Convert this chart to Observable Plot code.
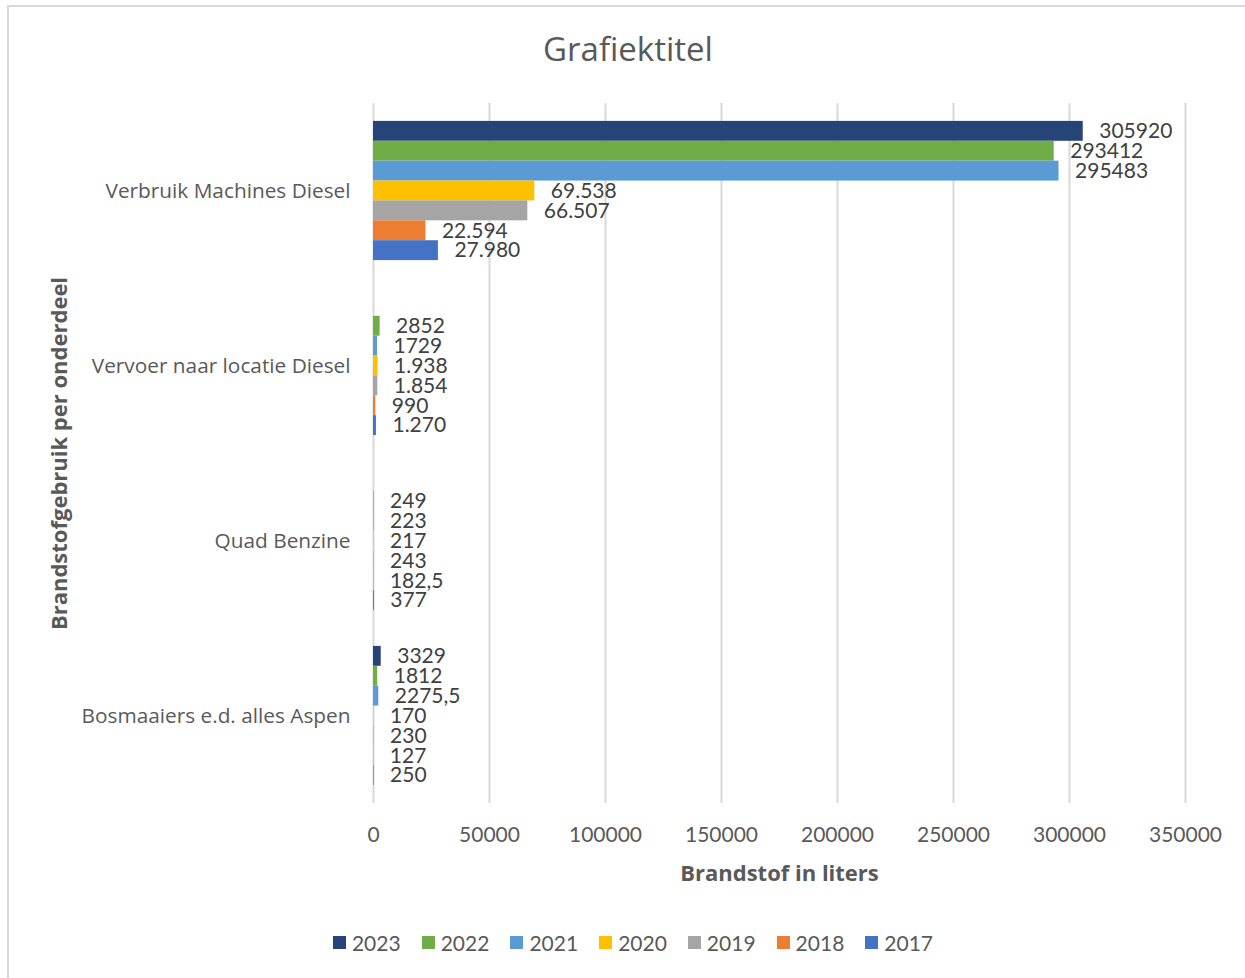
<!DOCTYPE html>
<html>
<head>
<meta charset="utf-8">
<script src="https://cdn.jsdelivr.net/npm/d3@7"></script>
<script src="https://cdn.jsdelivr.net/npm/@observablehq/plot@0.6"></script>
<style>
  html, body { margin: 0; padding: 0; background: #fff; }
  body { width: 1245px; height: 978px; overflow: hidden; position: relative; font-family: Lato, "Open Sans", sans-serif; }
  #frame { position: absolute; left: 7px; top: 5px; width: 1260px; height: 1000px; border: 2px solid #d9d9d9; box-sizing: border-box; }
  #title { position: absolute; left: 0; top: 26px; width: 1256px; text-align: center; font-size: 33px; color: #595959; font-family: "Open Sans", sans-serif; font-variant-ligatures: none; }
  #chart { position: absolute; left: 0; top: 95px; }
  #legend { position: absolute; left: 0; width: 1266px; top: 930px; display: flex; justify-content: center; gap: 21px; font-size: 21px; color: #595959; }
  #legend .item { display: flex; align-items: center; gap: 6px; }
  #legend .sw { width: 13px; height: 13px; display: inline-block; }
</style>
</head>
<body>
<div id="frame"></div>
<div id="title">Grafiektitel</div>
<div id="chart"></div>
<div id="legend"></div>
<script>
const categories = ["Verbruik Machines Diesel", "Vervoer naar locatie Diesel", "Quad Benzine", "Bosmaaiers e.d. alles Aspen"];
const years = ["2023", "2022", "2021", "2020", "2019", "2018", "2017"];
const colors = ["#264478", "#70AD47", "#5B9BD5", "#FFC000", "#A5A5A5", "#ED7D31", "#4472C4"];

// values per category, in order of years (2023 ... 2017); null = no bar
const verbruikMachinesDiesel = [305920, 293412, 295483, 69538, 66507, 22594, 27980];
const vervoerNaarLocatieDiesel = [null, 2852, 1729, 1938, 1854, 990, 1270];
const quadBenzine = [null, 249, 223, 217, 243, 182.5, 377];
const bosmaaiers = [3329, 1812, 2275.5, 170, 230, 127, 250];

// data labels as shown in the chart
const labelsVerbruik = ["305920", "293412", "295483", "69.538", "66.507", "22.594", "27.980"];
const labelsVervoer = [null, "2852", "1729", "1.938", "1.854", "990", "1.270"];
const labelsQuad = [null, "249", "223", "217", "243", "182,5", "377"];
const labelsBos = ["3329", "1812", "2275,5", "170", "230", "127", "250"];

const xTicks = [0, 50000, 100000, 150000, 200000, 250000, 300000, 350000];

const seriesValues = [verbruikMachinesDiesel, vervoerNaarLocatieDiesel, quadBenzine, bosmaaiers];
const seriesLabels = [labelsVerbruik, labelsVervoer, labelsQuad, labelsBos];

const data = [];
categories.forEach((cat, i) => {
  years.forEach((yr, j) => {
    const v = seriesValues[i][j];
    if (v == null) return;
    data.push({cat, year: yr, value: v, label: seriesLabels[i][j]});
  });
});

const textColor = "#595959";

const plot = Plot.plot({
  width: 1245,
  height: 800,
  marginLeft: 373,
  marginRight: 60,
  marginTop: 8,
  marginBottom: 92,
  style: {fontFamily: "Lato, 'Open Sans', sans-serif", color: textColor, background: "transparent"},
  x: {domain: [0, 350000], ticks: xTicks},
  y: {domain: years, paddingInner: 0, paddingOuter: 0.9, axis: null, round: false},
  fy: {domain: categories, padding: 0, round: false},
  color: {domain: years, range: colors},
  marks: [
    Plot.gridX(xTicks, {stroke: "#d9d9d9", strokeWidth: 2, strokeOpacity: 1}),
    Plot.barX(data, {fy: "cat", y: "year", x: "value", fill: "year", insetTop: 0, insetBottom: 0}),
    Plot.text(data, {fy: "cat", y: "year", x: "value", text: "label", textAnchor: "start", dx: 16, fontSize: 21, fill: "#404040"}),
    Plot.axisX(xTicks, {anchor: "bottom", tickSize: 0, tickPadding: 24, fontSize: 21, tickFormat: d3.format("d"),
      label: "Brandstof in liters", labelAnchor: "center", labelArrow: false, labelOffset: 77}),
    Plot.axisFy({anchor: "left", tickSize: 0, tickPadding: 23, fontSize: 21,
      label: "Brandstofgebruik per onderdeel", labelAnchor: "center", labelOffset: 322})
  ]
});

document.getElementById("chart").appendChild(plot);

// style axis labels (bold)
d3.select(plot).selectAll("g[aria-label='x-axis label'] text, g[aria-label='fy-axis label'] text")
  .style("font-weight", "bold").style("font-size", "22px").style("font-family", "'Open Sans', sans-serif").attr("fill", textColor);
d3.select(plot).selectAll("g[aria-label='fy-axis tick label'] text")
  .style("font-family", "'Open Sans', sans-serif").style("font-size", "20.8px");
d3.select(plot).selectAll("g[aria-label='x-axis tick label'] text, g[aria-label='fy-axis tick label'] text")
  .attr("fill", textColor);

// legend
const legend = d3.select("#legend");
years.forEach((yr, i) => {
  const item = legend.append("div").attr("class", "item");
  item.append("span").attr("class", "sw").style("background", colors[i]);
  item.append("span").text(yr);
});
</script>
</body>
</html>
